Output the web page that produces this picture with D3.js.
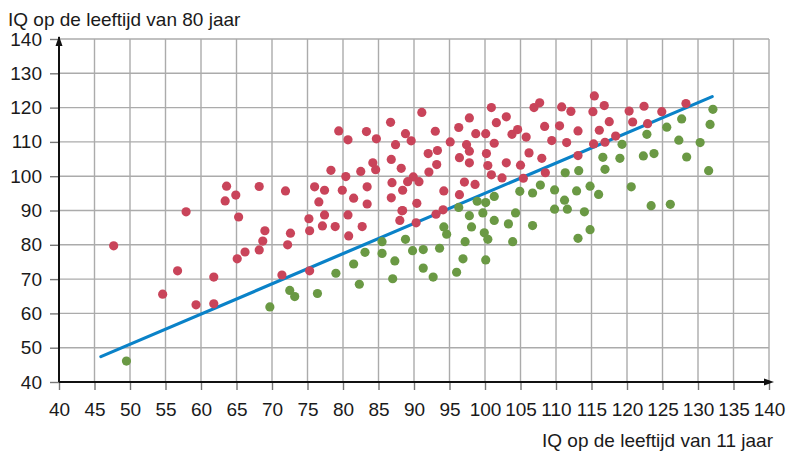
<html>
<head>
<script src="https://cdn.jsdelivr.net/npm/d3@7/dist/d3.min.js"></script>
</head>
<body style="margin:0; background:#fff">
<style>
text { font-family: "Liberation Sans", Arial, sans-serif; font-size: 19px; fill: #1a1a1a; }
.grid line { stroke: #ababab; stroke-width: 1.4px; }
.axis .tick line { stroke: #777; stroke-width: 1.4px; }
</style>
<svg id="chart" width="791" height="453"></svg>
<script>
// IQ op 11 jaar (x) en op 80 jaar (y), rode en groene groep
var redIQ11 = [47.7, 54.6, 56.7, 57.9, 59.3, 61.8, 61.8, 63.6, 64.9, 63.4, 65.3, 65.1,
  66.2, 69.0, 68.7, 68.2, 71.4, 72.6, 72.2, 75.2, 75.3, 75.3, 77.4, 77.1, 78.9, 80.7, 80.8, 82.7, 88.3, 88.0, 90.3,
  91.1, 86.7, 79.4, 83.3, 80.7, 84.7, 88.8, 89.6, 87.4, 92.0, 84.2, 86.8, 84.6, 88.2, 78.3, 82.5, 80.4, 89.9, 92.1,
  68.2, 71.9, 76.0, 77.4, 79.9, 83.4, 86.9, 89.1, 90.7, 88.4, 76.6, 81.5, 86.8, 83.4, 90.4, 88.4,
  100.9, 106.9, 107.7, 110.8, 112.1, 97.8, 101.6, 103.0, 108.4, 110.5, 113.1, 93.0, 96.3, 98.7, 100.1, 103.8, 104.6,
  105.8, 109.4, 111.5, 95.1, 97.4, 101.3, 97.8, 100.2, 106.2, 93.3, 96.4, 97.8, 103.0, 108.0, 93.2, 100.4, 105.0,
  100.9, 102.4, 108.5, 105.4, 97.1, 98.6, 94.2, 96.4, 94.1, 93.1, 113.1,
  115.4, 116.8, 122.4, 128.3, 115.2, 120.3, 124.9, 117.5, 120.8, 122.9, 116.1, 118.4, 115.3, 116.9];
var redIQ80 = [79.7, 65.6, 72.4, 89.6, 62.5, 62.8, 70.6, 97.1, 94.5, 92.8, 88.1, 75.9,
  77.9, 84.1, 81.1, 78.5, 71.2, 83.4, 80.0, 87.6, 84.1, 72.4, 88.7, 85.5, 85.3, 88.7, 82.6, 85.3, 89.9, 87.1, 86.4,
  118.6, 115.7, 113.2, 113.0, 110.6, 110.9, 112.4, 110.3, 109.2, 106.6, 103.9, 104.9, 101.9, 102.3, 101.7, 101.4, 99.9, 99.8, 101.2,
  97.0, 95.7, 96.9, 95.9, 95.9, 96.9, 98.1, 98.4, 98.4, 95.9, 92.5, 93.6, 93.7, 91.9, 92.1, 90.0,
  120.0, 120.0, 121.4, 120.2, 118.9, 117.0, 115.6, 117.3, 114.5, 114.7, 113.2, 113.1, 114.2, 112.4, 112.4, 112.2, 113.6,
  111.4, 110.4, 109.8, 110.0, 109.2, 109.6, 107.3, 106.6, 106.8, 107.5, 105.4, 103.9, 103.9, 105.2, 103.4, 103.1, 103.2,
  100.4, 99.5, 101.0, 99.4, 98.3, 97.6, 95.7, 94.6, 90.2, 88.9, 106.0,
  123.4, 120.6, 120.4, 121.2, 118.8, 119.0, 118.8, 115.9, 115.8, 115.3, 113.4, 111.7, 109.4, 109.9];

var greenIQ11 = [49.5, 69.7, 72.5, 73.2, 76.4, 79.0, 81.5, 82.3, 83.1, 85.5, 85.5, 87.3, 87.0, 88.8, 89.8, 91.3, 91.3,
  111.3, 113.2, 107.8, 109.8, 104.9, 106.7, 112.9, 101.3, 111.2, 98.9, 100.1, 96.3, 109.8, 111.6, 97.8, 99.7, 104.3,
  101.3, 103.3, 106.7, 94.2, 98.1, 94.6, 99.9, 100.4, 97.2, 103.9, 93.6, 96.9, 100.1, 96.0, 92.7, 113.1,
  132.1, 131.7, 127.7, 125.6, 122.8, 127.3, 130.3, 119.3, 116.6, 119.0, 122.3, 123.8, 128.4, 116.9, 131.5,
  114.8, 116.0, 120.6, 114.0, 123.4, 126.1, 114.8];
var greenIQ80 = [46.1, 61.9, 66.7, 64.9, 65.8, 71.7, 74.4, 68.5, 77.8, 80.9, 77.5, 75.3, 70.1, 81.6, 78.3, 78.6, 73.2,
  101.0, 101.6, 97.4, 96.0, 95.6, 95.1, 95.7, 94.1, 93.0, 92.7, 92.3, 90.9, 90.4, 90.4, 88.5, 89.3, 89.3,
  87.1, 86.1, 85.6, 85.2, 85.2, 83.1, 83.5, 81.6, 80.9, 80.9, 79.0, 75.9, 75.6, 72.0, 70.6, 81.9,
  119.5, 115.1, 116.7, 114.3, 112.2, 110.5, 109.8, 109.3, 105.5, 105.2, 105.9, 106.6, 105.6, 102.0, 101.6,
  97.1, 94.7, 96.9, 89.6, 91.4, 91.8, 84.4];

// regressielijn: begin- en eindpunt
var lineIQ11 = [45.9, 132.0];
var lineIQ80 = [47.4, 123.2];

var xTicks = d3.range(40, 141, 5);
var yTicks = d3.range(40, 141, 10);

var svg = d3.select("#chart");
var margin = { top: 39, right: 22, bottom: 71, left: 59 };
var width = 791 - margin.left - margin.right;
var height = 453 - margin.top - margin.bottom;

var x = d3.scaleLinear().domain([40, 140]).range([margin.left, margin.left + width]);
var y = d3.scaleLinear().domain([40, 140]).range([margin.top + height, margin.top]);

// raster
var grid = svg.append("g").attr("class", "grid");
grid.selectAll(".v").data(xTicks.slice(1)).enter().append("line")
  .attr("x1", d => x(d)).attr("x2", d => x(d))
  .attr("y1", y(40)).attr("y2", y(140));
grid.selectAll(".h").data(yTicks.slice(1)).enter().append("line")
  .attr("x1", x(40)).attr("x2", x(140))
  .attr("y1", d => y(d)).attr("y2", d => y(d));

// assen met streepjes
var xAxis = svg.append("g").attr("class", "axis")
  .attr("transform", "translate(0," + y(40) + ")")
  .call(d3.axisBottom(x).tickValues(xTicks).tickSize(8).tickPadding(13));
var yAxis = svg.append("g").attr("class", "axis")
  .attr("transform", "translate(" + x(40) + ",0)")
  .call(d3.axisLeft(y).tickValues(yTicks).tickSize(9).tickPadding(8));
svg.selectAll(".axis .domain").remove();
svg.selectAll(".axis text").attr("fill", "#1a1a1a").style("font-size", "19px");

// aslijnen met pijlpunt
svg.append("line").attr("x1", x(40)).attr("x2", x(140) + 2)
  .attr("y1", y(40)).attr("y2", y(40)).attr("stroke", "#111").attr("stroke-width", 2);
svg.append("line").attr("x1", x(40)).attr("x2", x(40))
  .attr("y1", y(40)).attr("y2", y(140) - 2).attr("stroke", "#111").attr("stroke-width", 2);
svg.append("path")
  .attr("d", "M" + (x(140) + 5) + "," + y(40) + " l-10,-3.5 l0,7 z").attr("fill", "#111");
svg.append("path")
  .attr("d", "M" + x(40) + "," + (y(140) - 3) + " l-3.5,10 l7,0 z").attr("fill", "#111");

// regressielijn
svg.append("line")
  .attr("x1", x(lineIQ11[0])).attr("y1", y(lineIQ80[0]))
  .attr("x2", x(lineIQ11[1])).attr("y2", y(lineIQ80[1]))
  .attr("stroke", "#0a82c8").attr("stroke-width", 3.2).attr("stroke-linecap", "round");

// punten
svg.append("g").selectAll("circle").data(redIQ11).enter().append("circle")
  .attr("cx", d => x(d)).attr("cy", (d, i) => y(redIQ80[i])).attr("r", 4.6)
  .attr("fill", "#c9445a");
svg.append("g").selectAll("circle").data(greenIQ11).enter().append("circle")
  .attr("cx", d => x(d)).attr("cy", (d, i) => y(greenIQ80[i])).attr("r", 4.6)
  .attr("fill", "#6a9944");

// astitels
svg.append("text").attr("x", 8).attr("y", 26).text("IQ op de leeftijd van 80 jaar");
svg.append("text").attr("x", 773).attr("y", 447).attr("text-anchor", "end")
  .text("IQ op de leeftijd van 11 jaar");
</script>
</body>
</html>
